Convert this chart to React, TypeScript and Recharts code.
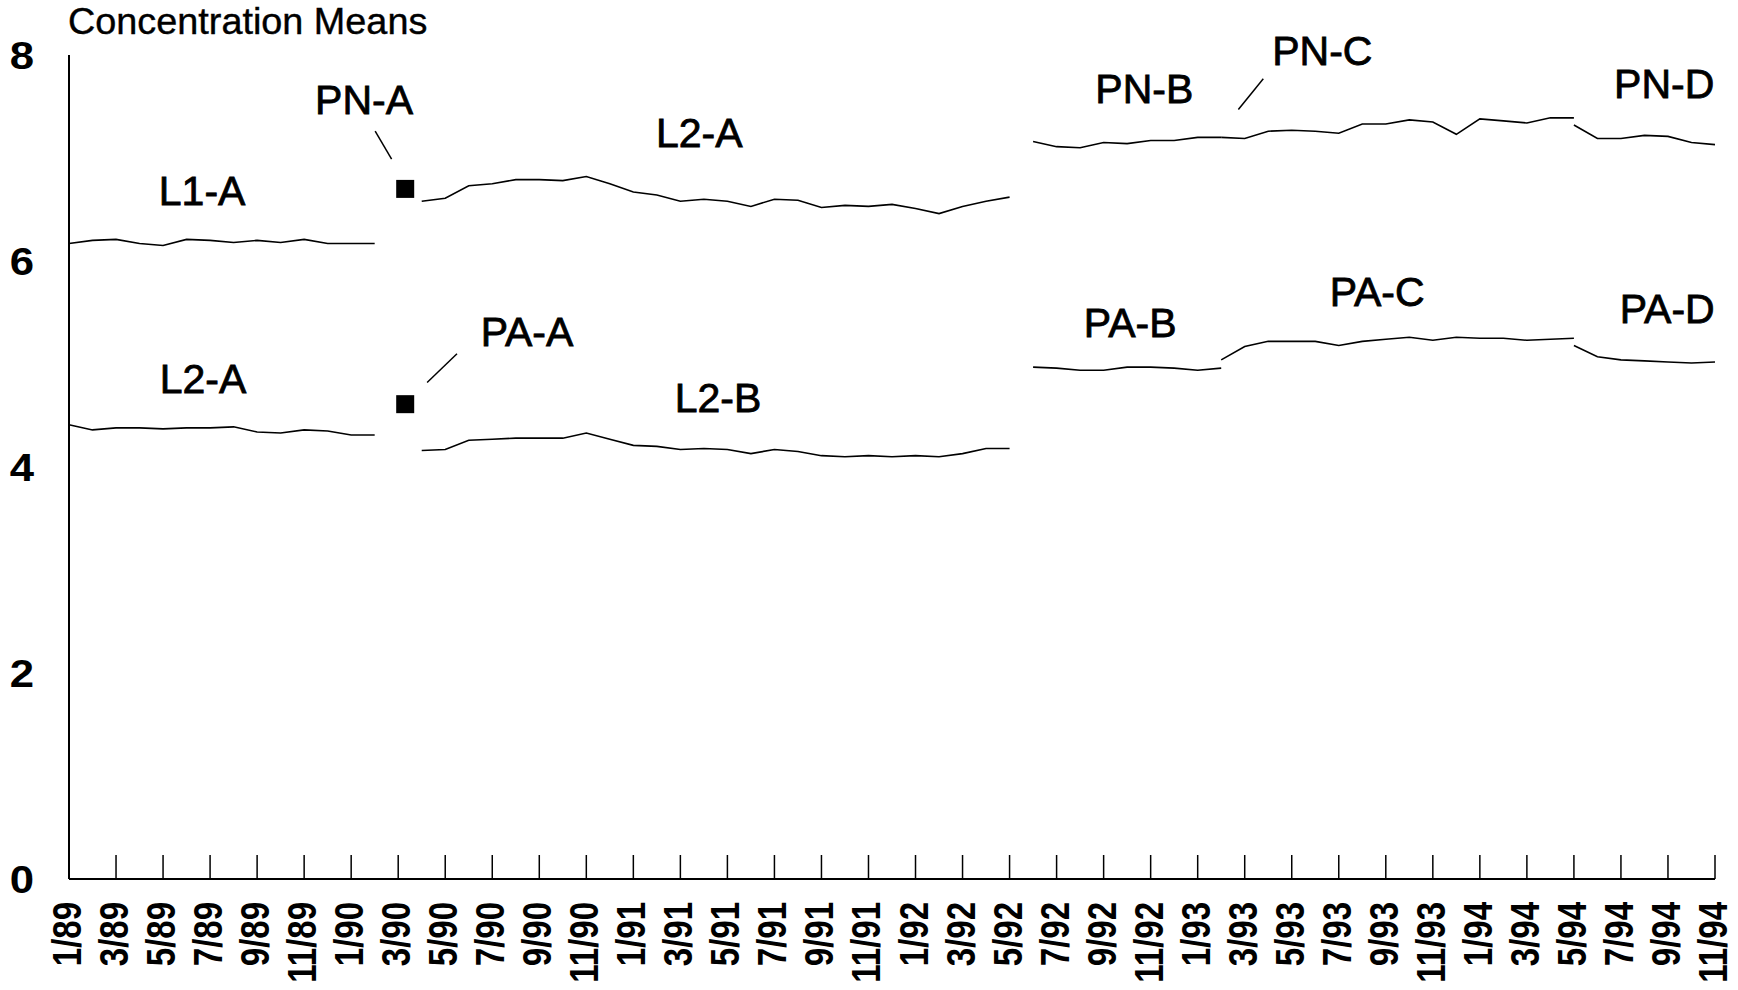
import { LineChart, Line, XAxis, YAxis, ReferenceLine, ReferenceDot } from "recharts"

const FONT = "'Liberation Sans', Arial, Helvetica, sans-serif"

// tick labels, one every two months from 1/89 to 11/94 (71 monthly slots)
const TICK_LABELS = [
  "1/89", "3/89", "5/89", "7/89", "9/89", "11/89",
  "1/90", "3/90", "5/90", "7/90", "9/90", "11/90",
  "1/91", "3/91", "5/91", "7/91", "9/91", "11/91",
  "1/92", "3/92", "5/92", "7/92", "9/92", "11/92",
  "1/93", "3/93", "5/93", "7/93", "9/93", "11/93",
  "1/94", "3/94", "5/94", "7/94", "9/94", "11/94",
]
const MONTHS = 71
const Y_TICKS = [0, 2, 4, 6, 8]

// each series: month index where it starts + monthly means
const L1A_START = 0
const l1a = [6.17, 6.2, 6.21, 6.17, 6.15, 6.21, 6.2, 6.18, 6.2, 6.18, 6.21, 6.17, 6.17, 6.17]
const L2A_LOW_START = 0
const l2aLow = [4.41, 4.36, 4.38, 4.38, 4.37, 4.38, 4.38, 4.39, 4.34, 4.33, 4.36, 4.35, 4.31, 4.31]

const PNA_START = 14
const pnA = [6.7]
const PAA_START = 14
const paA = [4.61]

const L2A_UP_START = 15
const l2aUp = [
  6.58, 6.61, 6.73, 6.75, 6.79, 6.79, 6.78, 6.82, 6.75, 6.67, 6.64, 6.58, 6.6,
  6.58, 6.53, 6.6, 6.59, 6.52, 6.54, 6.53, 6.55, 6.51, 6.46, 6.53, 6.58, 6.62,
]
const L2B_START = 15
const l2b = [
  4.16, 4.17, 4.26, 4.27, 4.28, 4.28, 4.28, 4.33, 4.27, 4.21, 4.2, 4.17, 4.18,
  4.17, 4.13, 4.17, 4.15, 4.11, 4.1, 4.11, 4.1, 4.11, 4.1, 4.13, 4.18, 4.18,
]

const PNB_START = 41
const pnB = [7.16, 7.11, 7.1, 7.15, 7.14, 7.17, 7.17, 7.2, 7.2]
const PNC_START = 49
const pnC = [7.2, 7.19, 7.26, 7.27, 7.26, 7.24, 7.33, 7.33, 7.37, 7.35, 7.23, 7.38, 7.36, 7.34, 7.39, 7.39]
const PND_START = 64
const pnD = [7.32, 7.19, 7.19, 7.22, 7.21, 7.15, 7.13]

const PAB_START = 41
const paB = [4.97, 4.96, 4.94, 4.94, 4.97, 4.97, 4.96, 4.94, 4.96]
const PAC_START = 49
const paC = [5.04, 5.17, 5.22, 5.22, 5.22, 5.18, 5.22, 5.24, 5.26, 5.23, 5.26, 5.25, 5.25, 5.23, 5.24, 5.25]
const PAD_START = 64
const paD = [5.18, 5.07, 5.04, 5.03, 5.02, 5.01, 5.02]

const series: [string, number, number[]][] = [
  ["l1a", L1A_START, l1a],
  ["l2aLow", L2A_LOW_START, l2aLow],
  ["pnA", PNA_START, pnA],
  ["paA", PAA_START, paA],
  ["l2aUp", L2A_UP_START, l2aUp],
  ["l2b", L2B_START, l2b],
  ["pnB", PNB_START, pnB],
  ["pnC", PNC_START, pnC],
  ["pnD", PND_START, pnD],
  ["paB", PAB_START, paB],
  ["paC", PAC_START, paC],
  ["paD", PAD_START, paD],
]

const data = Array.from({ length: MONTHS }, (_, i) => {
  const row: any = { i }
  series.forEach(([key, start, vals]) => {
    const v = vals[i - start]
    row[key] = v === undefined ? null : v
  })
  return row
})

// segment labels (month index, value)
const labels: [string, number, number][] = [
  ["L1-A", 5.66, 6.69],
  ["PN-A", 12.55, 7.57],
  ["L2-A", 26.8, 7.25],
  ["L2-A", 5.7, 4.86],
  ["PA-A", 19.48, 5.32],
  ["L2-B", 27.6, 4.68],
  ["PN-B", 45.73, 7.68],
  ["PN-C", 53.3, 8.05],
  ["PN-D", 67.84, 7.73],
  ["PA-B", 45.13, 5.41],
  ["PA-C", 55.63, 5.71],
  ["PA-D", 67.97, 5.54],
]

// short leader lines next to some labels
const leaders = [
  [{ x: 13.02, y: 7.26 }, { x: 13.72, y: 6.99 }],
  [{ x: 15.23, y: 4.82 }, { x: 16.5, y: 5.1 }],
  [{ x: 49.73, y: 7.47 }, { x: 50.79, y: 7.77 }],
]

function XTick(props: any) {
  const { x, y, payload } = props
  const label = TICK_LABELS[Math.round(payload.value / 2)]
  return (
    <g>
      <line x1={x} y1={y} x2={x} y2={y - 24} stroke="#000" strokeWidth={1.5} />
      <text
        transform={`translate(${x + 12},${y + 23}) scale(1.25,1) rotate(-90)`}
        textAnchor="end"
        fontFamily={FONT}
        fontWeight="bold"
        fontSize={33}
        fill="#000"
      >
        {label}
      </text>
    </g>
  )
}

function YTick(props: any) {
  const { x, y, payload } = props
  return (
    <text
      transform={`translate(${x - 47},${y}) scale(1.15,1)`}
      textAnchor="middle"
      dy="0.36em"
      fontFamily={FONT}
      fontWeight="bold"
      fontSize={38}
      fill="#000"
    >
      {payload.value}
    </text>
  )
}

const square = (props: any) => {
  const { cx, cy, value } = props
  if (value == null || cy == null) return <g key={props.index} />
  return <rect key={props.index} x={cx - 2} y={cy - 9} width={18} height={18} fill="#000" />
}

const labelShape = (text: string) => (p: any) => (
  <text
    x={p.cx}
    y={p.cy}
    dy="0.36em"
    textAnchor="middle"
    fontFamily={FONT}
    fontSize={41}
    fill="#000"
    stroke="#000"
    strokeWidth={0.8}
  >
    {text}
  </text>
)

export default function App() {
  return (
    <div style={{ position: "absolute", left: 0, top: 0, width: 1738, height: 990, background: "#fff" }}>
      <div
        style={{
          position: "absolute",
          left: 68,
          top: 2,
          fontFamily: FONT,
          fontSize: 36,
          lineHeight: "40px",
          transform: "scaleX(1.05)",
          transformOrigin: "left top",
          whiteSpace: "nowrap",
          color: "#000",
          WebkitTextStroke: "0.4px #000",
        }}
      >
        Concentration Means
      </div>
      <LineChart width={1738} height={990} data={data} margin={{ top: 55, right: 23, left: 0, bottom: 0 }}>
        <XAxis
          type="number"
          dataKey="i"
          domain={[0, MONTHS - 1]}
          ticks={TICK_LABELS.map((_, k) => k * 2)}
          interval={0}
          height={111}
          tickSize={0}
          tickMargin={0}
          tickLine={false}
          axisLine={{ stroke: "#000", strokeWidth: 2 }}
          tick={<XTick />}
        />
        <YAxis
          domain={[0, 8]}
          ticks={Y_TICKS}
          width={69}
          tickSize={0}
          tickMargin={0}
          tickLine={false}
          axisLine={{ stroke: "#000", strokeWidth: 2 }}
          tick={<YTick />}
        />
        {series.map(([key]) =>
          key === "pnA" || key === "paA" ? (
            <Line
              key={key}
              dataKey={key}
              stroke="none"
              dot={square}
              activeDot={false}
              isAnimationActive={false}
            />
          ) : (
            <Line
              key={key}
              type="linear"
              dataKey={key}
              stroke="#000"
              strokeWidth={1.6}
              dot={false}
              activeDot={false}
              connectNulls={false}
              isAnimationActive={false}
            />
          )
        )}
        {leaders.map((seg, k) => (
          <ReferenceLine key={"ld" + k} segment={seg} stroke="#000" strokeWidth={1.5} ifOverflow="visible" />
        ))}
        {labels.map(([text, x, y], k) => (
          <ReferenceDot key={"lb" + k} x={x} y={y} r={0} ifOverflow="visible" shape={labelShape(text)} />
        ))}
      </LineChart>
    </div>
  )
}
